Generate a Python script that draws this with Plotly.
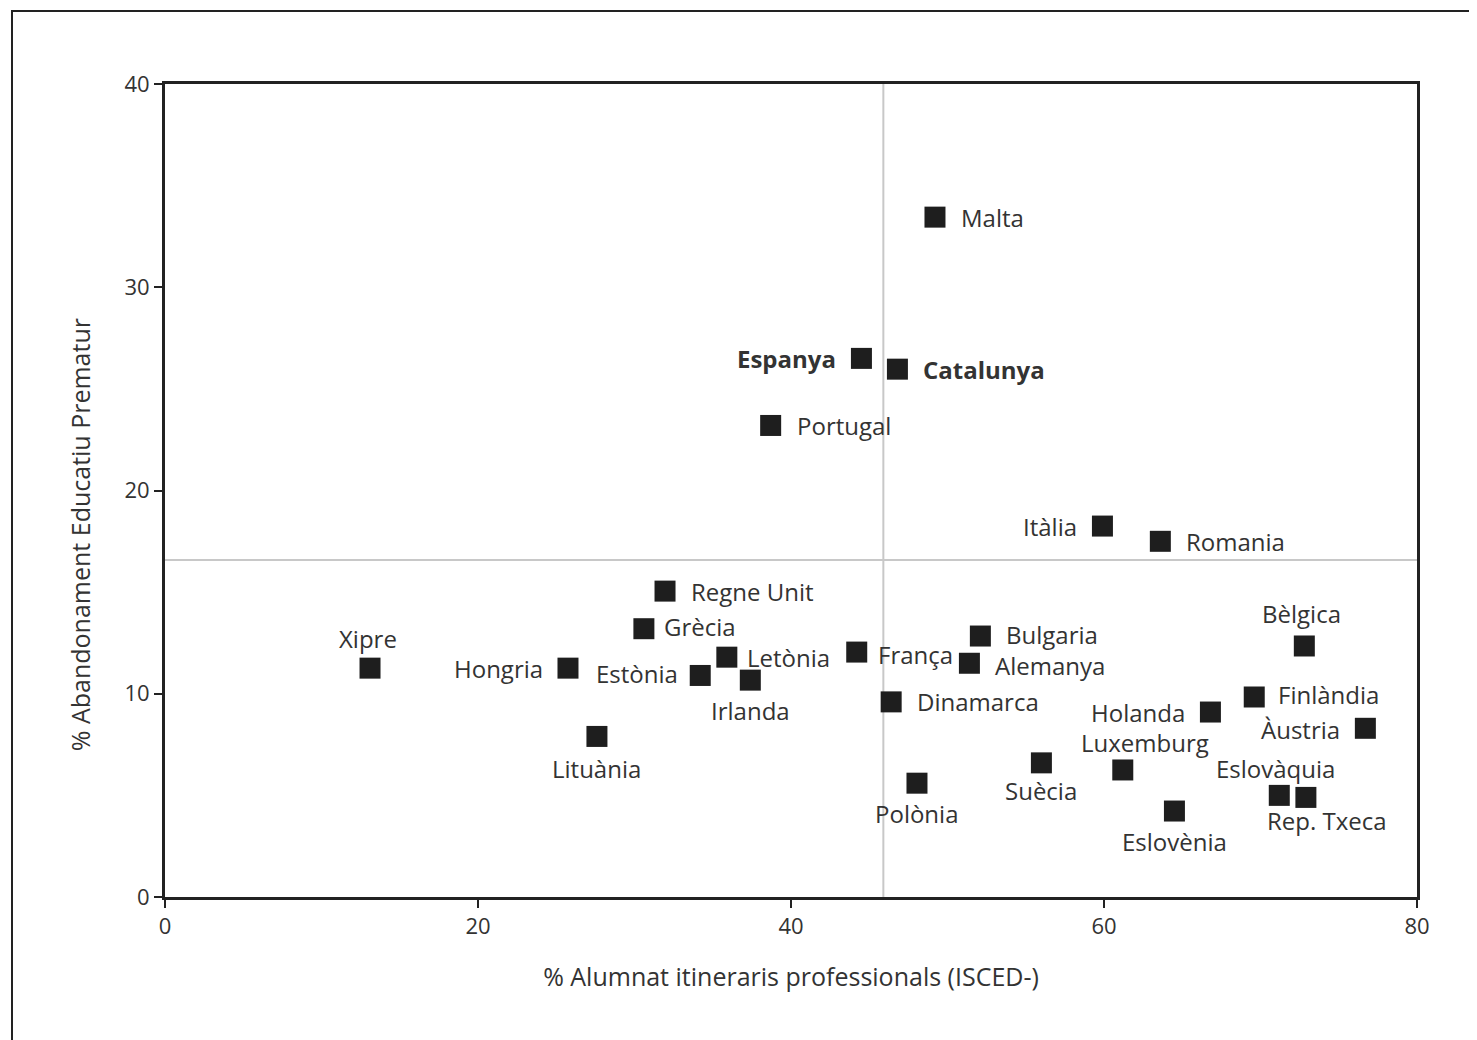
import plotly.graph_objects as go

countries = ["Malta", "Espanya", "Catalunya", "Portugal", "Itàlia", "Romania",
             "Regne Unit", "Grècia", "Xipre", "Hongria", "Estònia", "Letònia",
             "Irlanda", "França", "Bulgaria", "Alemanya", "Dinamarca", "Lituània",
             "Polònia", "Suècia", "Luxemburg", "Eslovènia", "Holanda", "Bèlgica",
             "Finlàndia", "Àustria", "Eslovàquia", "Rep. Txeca"]
vet_pct = [49.2, 44.5, 46.8, 38.7, 59.9, 63.6,
           31.95, 30.6, 13.1, 25.75, 34.2, 35.9,
           37.4, 44.2, 52.1, 51.4, 46.4, 27.6,
           48.05, 56.0, 61.2, 64.5, 66.8, 72.8,
           69.6, 76.7, 71.2, 72.9]
dropout_pct = [33.45, 26.5, 25.97, 23.2, 18.25, 17.5,
               15.05, 13.2, 11.26, 11.26, 10.9, 11.8,
               10.67, 12.05, 12.84, 11.5, 9.6, 7.9,
               5.6, 6.6, 6.25, 4.23, 9.1, 12.35,
               9.84, 8.3, 5.0, 4.9]
mean_vet = 45.9
mean_dropout = 16.58
x_ticks = [0, 20, 40, 60, 80]
y_ticks = [0, 10, 20, 30, 40]

# label placement (layout only): side, extra x shift, extra y shift (pixels)
label_pos = {
    "Malta": ("r", 0, 0), "Espanya": ("l", 0, 0), "Catalunya": ("r", 0, 0),
    "Portugal": ("r", 0, 0), "Itàlia": ("l", 0, 0), "Romania": ("r", 0, 0),
    "Regne Unit": ("r", 0, 0), "Grècia": ("r", -6, 2), "Xipre": ("t", -2, 0),
    "Hongria": ("l", 0, 0), "Estònia": ("l", 3, 2), "Letònia": ("r", -6, 0),
    "Irlanda": ("b", 0, 0), "França": ("r", -5, -2), "Bulgaria": ("r", 0, 2),
    "Alemanya": ("r", 0, -2), "Dinamarca": ("r", 0, 0), "Lituània": ("b", 0, -2),
    "Polònia": ("b", 0, 0), "Suècia": ("b", 0, 2), "Luxemburg": ("t", 22, -3),
    "Eslovènia": ("b", 0, 0), "Holanda": ("l", 0, 0), "Bèlgica": ("t", -3, 2),
    "Finlàndia": ("r", -2, 3), "Àustria": ("l", 0, -1), "Eslovàquia": ("t", -4, -3),
    "Rep. Txeca": ("b", 21, 7),
}
bold = {"Espanya", "Catalunya"}

FONT = "Open Sans"
TXT = "#333333"
LABEL_SIZE = 24

fig = go.Figure()
fig.add_trace(go.Scatter(
    x=vet_pct, y=dropout_pct, mode="markers",
    marker=dict(symbol="square", size=21, color="#1e1e1e", line=dict(width=0)),
    cliponaxis=False, showlegend=False, hoverinfo="skip",
))

for c, xv, yv in zip(countries, vet_pct, dropout_pct):
    side, dx, dy = label_pos[c]
    txt = f"<b>{c}</b>" if c in bold else c
    if side == "r":
        xa, ya, xs, ys = "left", "middle", 24, 0
    elif side == "l":
        xa, ya, xs, ys = "right", "middle", -23, 0
    elif side == "t":
        xa, ya, xs, ys = "center", "middle", 0, 30
    else:
        xa, ya, xs, ys = "center", "middle", 0, -30
    fig.add_annotation(x=xv, y=yv, text=txt, showarrow=False,
                       xanchor=xa, yanchor=ya, xshift=xs + dx, yshift=ys + dy,
                       font=dict(family=FONT, size=LABEL_SIZE, color=TXT))

# y-axis title (placed as annotation to match the reference's offset)
fig.add_annotation(xref="paper", yref="paper", x=0, y=0.445, xshift=-85,
                   text="% Abandonament Educatiu Prematur", textangle=-90,
                   showarrow=False, xanchor="center", yanchor="middle",
                   font=dict(family=FONT, size=25, color=TXT))

fig.add_shape(type="line", xref="x", yref="paper", x0=mean_vet, x1=mean_vet, y0=0, y1=1,
              line=dict(color="#c8c8c8", width=2), layer="below")
fig.add_shape(type="line", xref="paper", yref="y", x0=0, x1=1, y0=mean_dropout, y1=mean_dropout,
              line=dict(color="#c8c8c8", width=2), layer="below")
# outer frame
fig.add_shape(type="rect", xref="paper", yref="paper",
              x0=-153/1252, x1=1.2, y0=-0.3, y1=1 + 73/813,
              line=dict(color="#222222", width=2), layer="below")

axis_common = dict(
    showgrid=False, zeroline=False, showline=True, mirror=True,
    linecolor="#222222", linewidth=3, ticks="outside", ticklen=8, tickwidth=2,
    tickcolor="#222222", tickfont=dict(family=FONT, size=22, color=TXT),
)
fig.update_xaxes(range=[0, 80], tickvals=x_ticks,
                 title=dict(text="% Alumnat itineraris professionals (ISCED-)",
                            font=dict(family=FONT, size=25, color=TXT), standoff=30),
                 **axis_common)
fig.update_yaxes(range=[0, 40], tickvals=y_ticks, **axis_common)

fig.update_layout(
    width=1469, height=1032,
    margin=dict(l=157, r=60, t=76, b=143),
    plot_bgcolor="white", paper_bgcolor="white",
    font=dict(family=FONT, color=TXT),
)

fig.write_html("out.html")
